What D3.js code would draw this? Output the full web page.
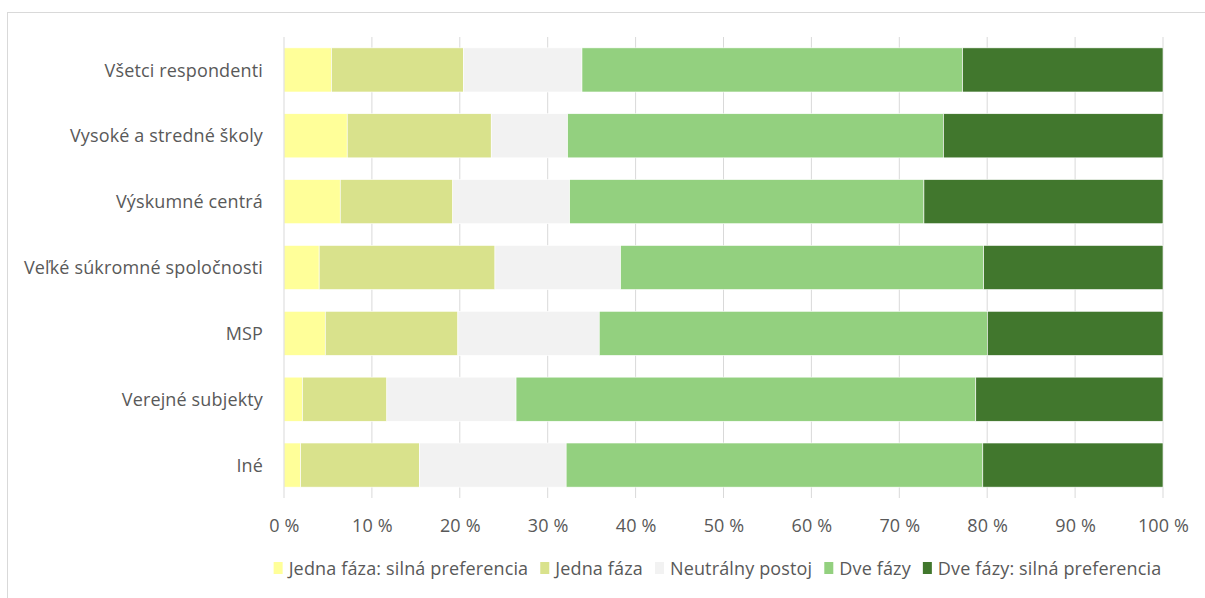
<!DOCTYPE html>
<html>
<head>
<meta charset="utf-8">
<script src="https://cdn.jsdelivr.net/npm/d3@7"></script>
<style>
  body { margin: 0; background: #fff; }
  text { font-family: "Open Sans", sans-serif; fill: #595959; font-size: 18px; letter-spacing: 0.15px; }
</style>
</head>
<body>
<svg id="chart" width="1205" height="598"></svg>
<script>
// data (percent of each group)
var categories = ["Všetci respondenti", "Vysoké a stredné školy", "Výskumné centrá",
    "Veľké súkromné spoločnosti", "MSP", "Verejné subjekty", "Iné"];
var seriesNames = ["Jedna fáza: silná preferencia", "Jedna fáza", "Neutrálny postoj",
    "Dve fázy", "Dve fázy: silná preferencia"];
var silnaJedna = [5.4, 7.2, 6.4, 4.0, 4.7, 2.1, 1.9];
var jedna      = [15.0, 16.4, 12.8, 20.0, 15.1, 9.6, 13.5];
var neutralny  = [13.5, 8.7, 13.3, 14.3, 16.1, 14.7, 16.7];
var dve        = [43.3, 42.8, 40.3, 41.3, 44.2, 52.3, 47.4];
var silnaDve   = [22.8, 25.0, 27.2, 20.4, 20.0, 21.3, 20.5];
var tickValues = [0, 10, 20, 30, 40, 50, 60, 70, 80, 90, 100];

var colors = ["#FFFF99", "#D9E28C", "#F2F2F2", "#93D07F", "#41772D"];

var svg = d3.select("#chart");

// chart frame
svg.append("rect")
    .attr("x", 7.5).attr("y", 12.5)
    .attr("width", 1230).attr("height", 620)
    .attr("fill", "none").attr("stroke", "#d9d9d9");

var plotLeft = 284, plotRight = 1163, plotTop = 37, plotBottom = 498;

var x = d3.scaleLinear().domain([0, 100]).range([plotLeft, plotRight]);
var y = d3.scaleBand().domain(categories).range([plotTop, plotBottom])
    .paddingInner(0.33).paddingOuter(0.165);

var table = categories.map((c, i) => ({
    cat: c,
    s0: silnaJedna[i], s1: jedna[i], s2: neutralny[i], s3: dve[i], s4: silnaDve[i]
}));
var keys = ["s0", "s1", "s2", "s3", "s4"];
var stack = d3.stack().keys(keys).offset(d3.stackOffsetExpand);
var layers = stack(table);

// gridlines
svg.append("g").selectAll("line")
    .data(tickValues.slice(1))
    .enter().append("line")
    .attr("x1", d => x(d)).attr("x2", d => x(d))
    .attr("y1", plotTop).attr("y2", plotBottom)
    .attr("stroke", "#d9d9d9").attr("stroke-width", 1);

// bars
svg.append("g").selectAll("g")
    .data(layers)
    .enter().append("g")
    .attr("fill", (d, i) => colors[i])
    .selectAll("rect")
    .data(d => d)
    .enter().append("rect")
    .attr("x", d => x(d[0] * 100))
    .attr("width", d => x(d[1] * 100) - x(d[0] * 100))
    .attr("y", d => y(d.data.cat))
    .attr("height", y.bandwidth())
    .attr("stroke", "#fff").attr("stroke-width", 0.6);

// vertical axis line
svg.append("line")
    .attr("x1", plotLeft).attr("x2", plotLeft)
    .attr("y1", plotTop).attr("y2", plotBottom)
    .attr("stroke", "#d9d9d9");

// category labels
svg.append("g").selectAll("text")
    .data(categories)
    .enter().append("text")
    .attr("x", 263)
    .attr("y", d => y(d) + y.bandwidth() / 2)
    .attr("dy", ".37em")
    .attr("text-anchor", "end")
    .text(d => d);

// x axis
var xAxis = d3.axisBottom(x).tickValues(tickValues).tickSize(0).tickFormat(d => d + " %");
var gx = svg.append("g").attr("transform", "translate(0," + plotBottom + ")").call(xAxis);
gx.select(".domain").remove();
gx.selectAll("text")
    .attr("y", 21)
    .style("font-size", "18px")
    .style("font-family", "'Open Sans', sans-serif")
    .attr("fill", "#595959");

// legend
var legend = svg.append("g");
var items = legend.selectAll("g")
    .data(seriesNames)
    .enter().append("g");
items.append("rect")
    .attr("width", 9).attr("height", 12)
    .attr("y", -6)
    .attr("fill", (d, i) => colors[i]);
items.append("text")
    .attr("x", 15)
    .attr("dy", ".37em")
    .text(d => d);

var widths = [];
items.each(function () {
    widths.push(15 + d3.select(this).select("text").node().getComputedTextLength());
});
var gap = 12;
var total = d3.sum(widths) + gap * (widths.length - 1);
var pos = (plotLeft + plotRight) / 2 - total / 2 - 6;
items.attr("transform", function (d, i) {
    var t = "translate(" + pos + ",568)";
    pos += widths[i] + gap;
    return t;
});
</script>
</body>
</html>
